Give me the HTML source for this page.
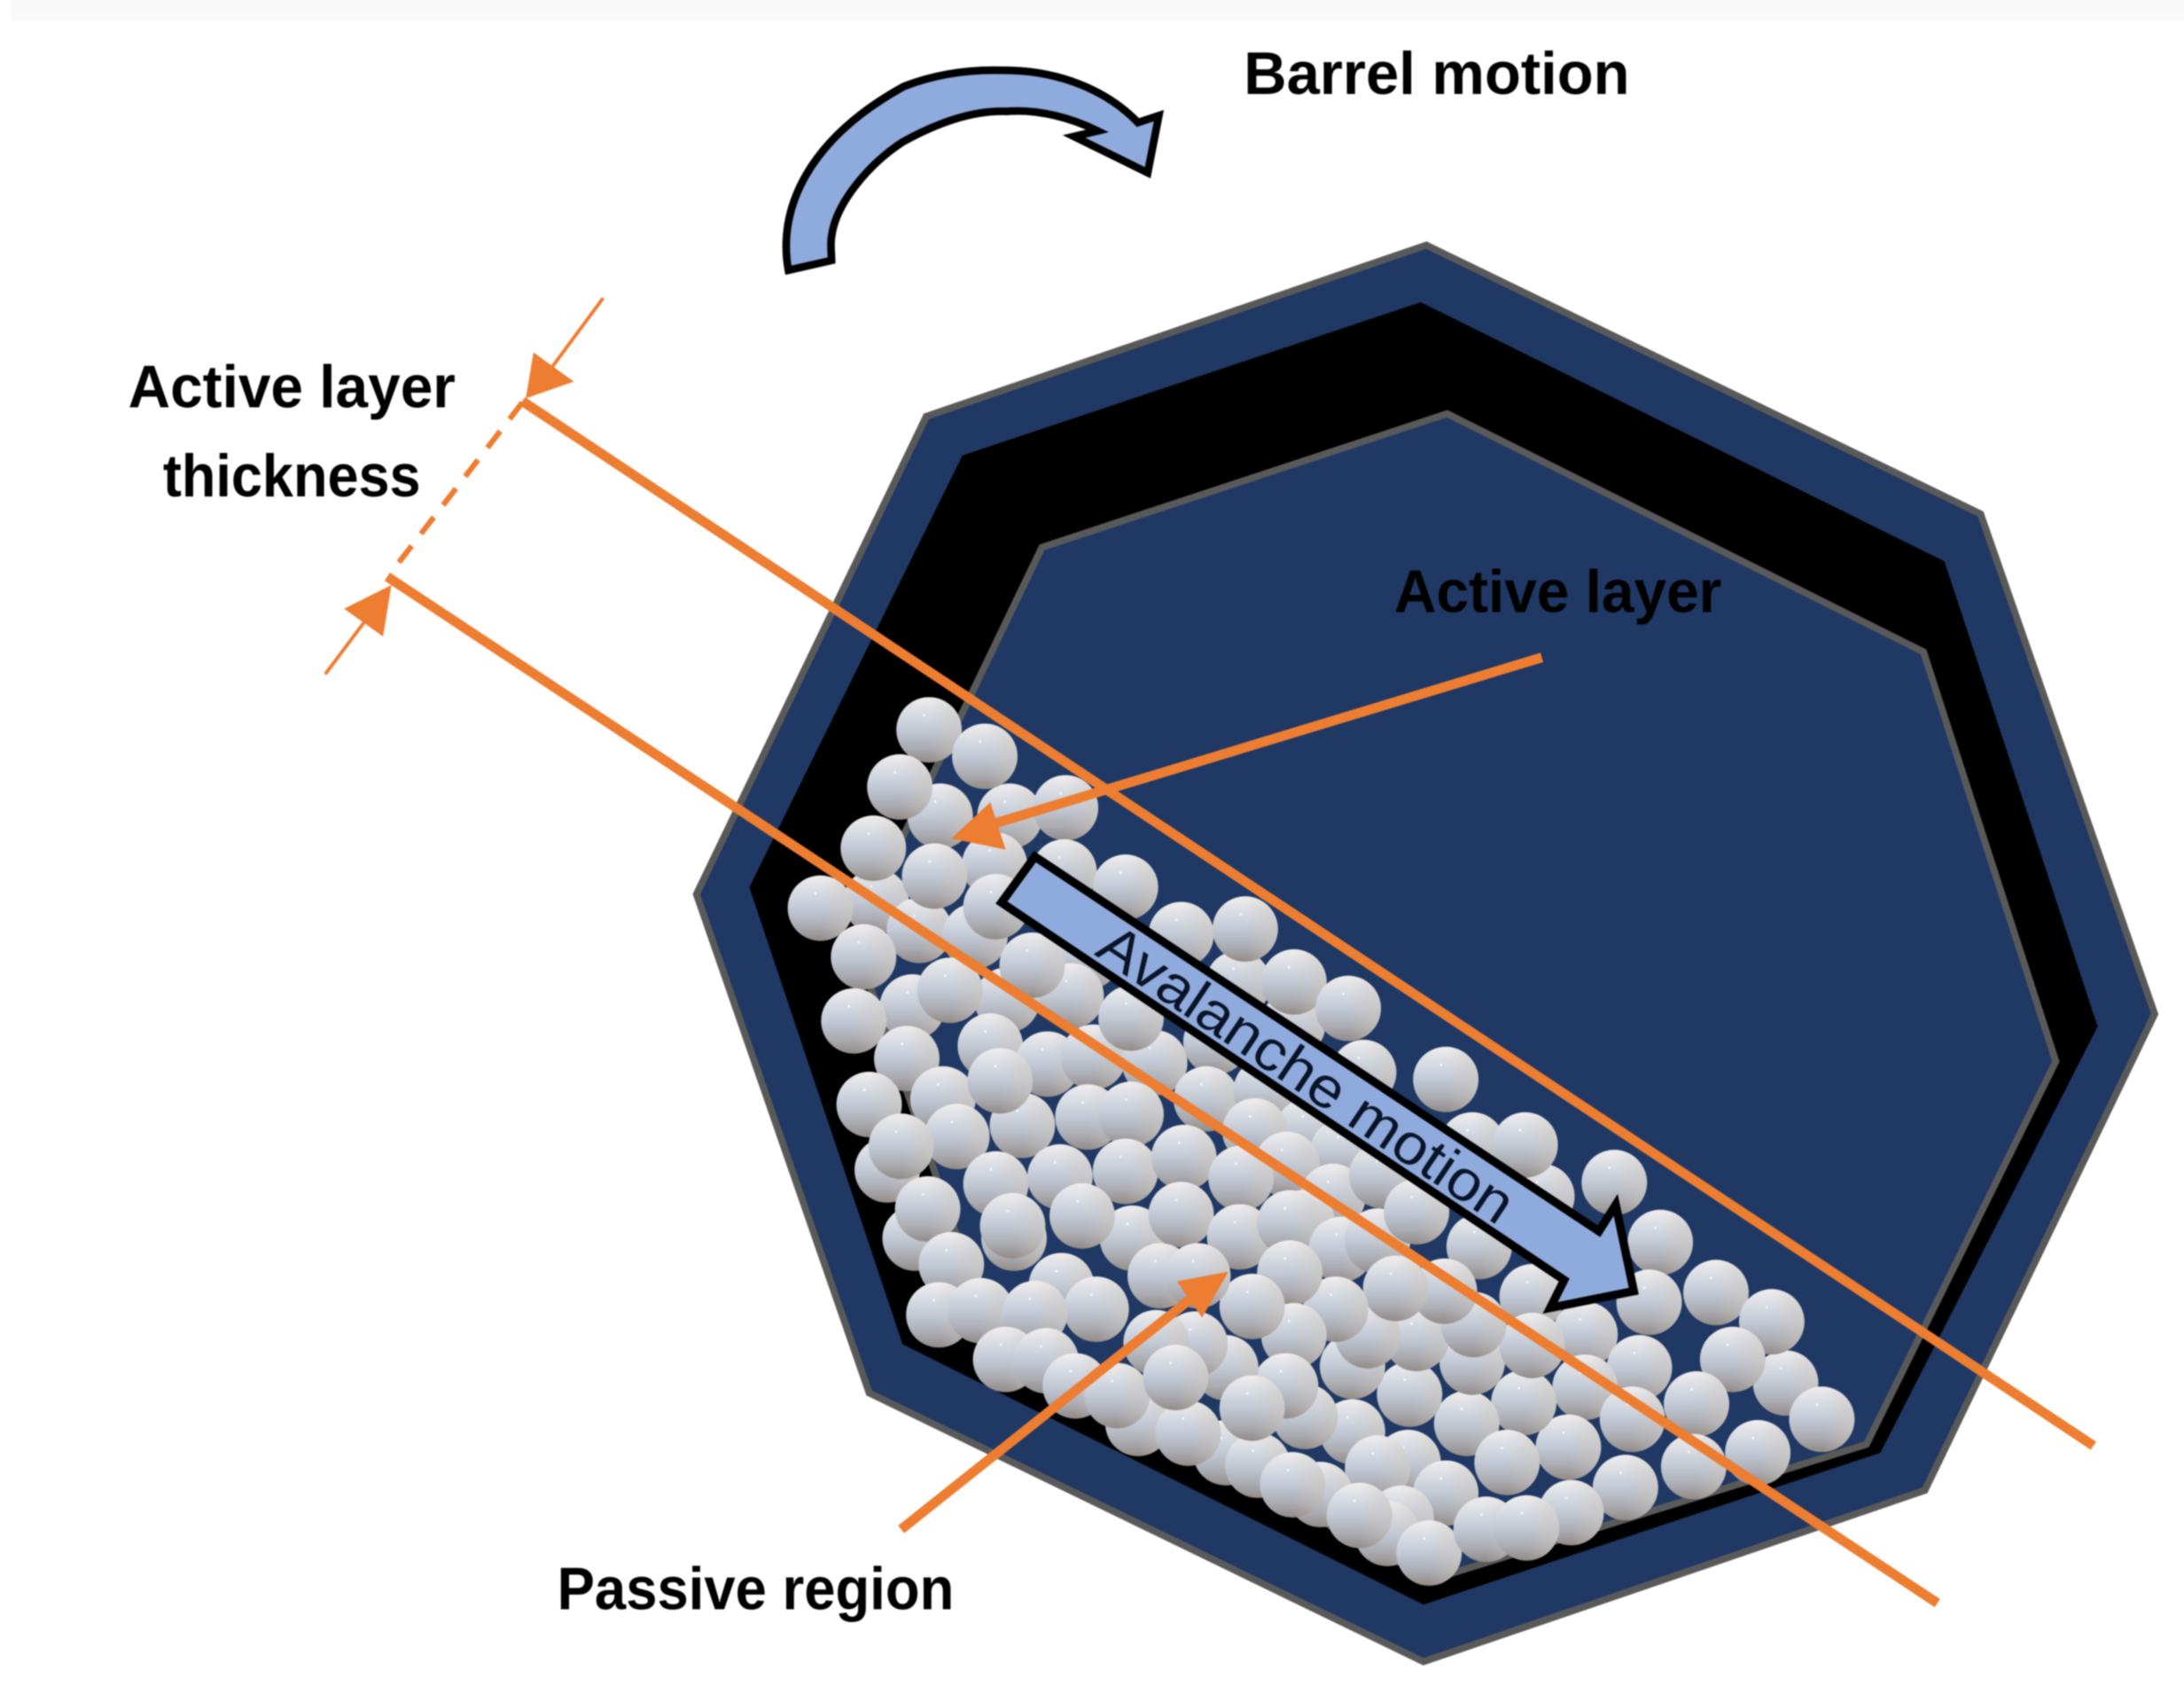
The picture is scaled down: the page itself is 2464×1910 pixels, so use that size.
<!DOCTYPE html>
<html><head><meta charset="utf-8"><style>html,body{margin:0;padding:0;background:#fff}svg{display:block;filter:blur(.7px)}text{font-family:"Liberation Sans",sans-serif;fill:#000}.b{font-weight:700;font-size:43px}</style></head><body>
<svg width="2464" height="1910" viewBox="0 0 1568 1215.5" xmlns="http://www.w3.org/2000/svg">
<defs>
<linearGradient id="g" x1="0" y1="0" x2="0" y2="1"><stop offset="0" stop-color="#f0eded"/><stop offset=".25" stop-color="#d8dce3"/><stop offset=".5" stop-color="#c2c9d5"/><stop offset=".78" stop-color="#aaabb1"/><stop offset="1" stop-color="#918a86"/></linearGradient>
<linearGradient id="h" x1="0" y1="0" x2="1" y2="0"><stop offset=".5" stop-color="#cfc6bd" stop-opacity="0"/><stop offset="1" stop-color="#cfc6bd" stop-opacity=".55"/></linearGradient>
<g id="b"><circle r="23.500" fill="url(#g)"/><circle r="23.500" fill="url(#h)"/><circle cx="-3.500" cy="-10.500" r=".8" fill="#fff"/></g>
</defs>
<rect x="8" width="1560" height="15" fill="#f9f9f9"/>
<polygon points="1024,176 1422,369 1547,728 1382,1070 1022,1193 624,1000 500,642 665,299" fill="#1f3864" stroke="#595959" stroke-width="5"/>
<polygon points="1020,217 1396,403 1506,737 1350,1043 1022,1152 648,965 538,637 691,327" fill="#000"/>
<polygon points="1039,297 1381,468 1476,762 1340,1037 1028,1134 715,968 613,674 748,393" fill="#1f3864" stroke="#595959" stroke-width="5"/>
<g>
<use href="#b" x="629" y="647"/><use href="#b" x="660" y="668"/><use href="#b" x="700" y="672"/><use href="#b" x="675" y="586"/><use href="#b" x="725" y="586"/><use href="#b" x="765" y="580"/><use href="#b" x="714" y="621"/><use href="#b" x="764" y="626"/><use href="#b" x="781" y="687"/><use href="#b" x="769" y="715"/><use href="#b" x="723" y="718"/><use href="#b" x="889" y="706"/><use href="#b" x="928" y="736"/><use href="#b" x="979" y="770"/>
<use href="#b" x="667" y="524"/><use href="#b" x="707" y="543"/><use href="#b" x="646" y="565"/><use href="#b" x="627" y="609"/><use href="#b" x="671" y="629"/><use href="#b" x="715" y="651"/><use href="#b" x="808" y="637"/><use href="#b" x="589" y="652"/><use href="#b" x="848" y="671"/><use href="#b" x="894" y="667"/><use href="#b" x="620" y="687"/><use href="#b" x="655" y="723"/><use href="#b" x="682" y="711"/><use href="#b" x="741" y="693"/><use href="#b" x="929" y="705"/><use href="#b" x="968" y="724"/><use href="#b" x="613" y="733"/>
<use href="#b" x="711" y="751"/><use href="#b" x="752" y="764"/><use href="#b" x="785" y="759"/><use href="#b" x="829" y="763"/><use href="#b" x="812" y="731"/><use href="#b" x="873" y="748"/><use href="#b" x="651" y="760"/><use href="#b" x="677" y="789"/><use href="#b" x="734" y="808"/><use href="#b" x="718" y="776"/><use href="#b" x="624" y="793"/><use href="#b" x="781" y="802"/><use href="#b" x="812" y="800"/><use href="#b" x="866" y="789"/><use href="#b" x="909" y="783"/><use href="#b" x="939" y="812"/><use href="#b" x="901" y="812"/><use href="#b" x="687" y="816"/><use href="#b" x="637" y="840"/><use href="#b" x="647" y="823"/><use href="#b" x="1038" y="775"/><use href="#b" x="964" y="827"/><use href="#b" x="924" y="836"/><use href="#b" x="1057" y="822"/><use href="#b" x="1107" y="859"/>
<use href="#b" x="715" y="850"/><use href="#b" x="761" y="845"/><use href="#b" x="808" y="841"/><use href="#b" x="850" y="831"/><use href="#b" x="657" y="889"/><use href="#b" x="666" y="868"/><use href="#b" x="891" y="846"/><use href="#b" x="1095" y="822"/><use href="#b" x="957" y="859"/><use href="#b" x="992" y="844"/>
<use href="#b" x="728" y="889"/><use href="#b" x="727" y="880"/><use href="#b" x="813" y="889"/><use href="#b" x="777" y="873"/><use href="#b" x="848" y="872"/><use href="#b" x="935" y="878"/><use href="#b" x="890" y="888"/><use href="#b" x="683" y="908"/><use href="#b" x="926" y="878"/><use href="#b" x="963" y="897"/><use href="#b" x="989" y="891"/><use href="#b" x="1017" y="870"/><use href="#b" x="1062" y="895"/><use href="#b" x="1159" y="849"/><use href="#b" x="1192" y="892"/>
<use href="#b" x="1184" y="935"/><use href="#b" x="1232" y="928"/><use href="#b" x="1282" y="993"/><use href="#b" x="1272" y="949"/><use href="#b" x="1244" y="976"/><use href="#b" x="1308" y="1019"/><use href="#b" x="1218" y="1008"/><use href="#b" x="1262" y="1043"/><use href="#b" x="1216" y="1053"/><use href="#b" x="1100" y="931"/><use href="#b" x="1138" y="958"/><use href="#b" x="1177" y="982"/><use href="#b" x="1138" y="996"/><use href="#b" x="1172" y="1019"/><use href="#b" x="1167" y="1068"/><use href="#b" x="1126" y="1039"/><use href="#b" x="1094" y="1007"/><use href="#b" x="1053" y="1022"/><use href="#b" x="1082" y="1050"/><use href="#b" x="1012" y="1001"/><use href="#b" x="971" y="981"/><use href="#b" x="1057" y="978"/><use href="#b" x="1100" y="966"/><use href="#b" x="1017" y="961"/><use href="#b" x="982" y="959"/><use href="#b" x="1058" y="951"/><use href="#b" x="1037" y="927"/><use href="#b" x="1002" y="925"/><use href="#b" x="959" y="940"/><use href="#b" x="926" y="914"/><use href="#b" x="929" y="959"/><use href="#b" x="899" y="938"/>
<use href="#b" x="833" y="916"/><use href="#b" x="762" y="923"/><use href="#b" x="860" y="916"/><use href="#b" x="674" y="944"/><use href="#b" x="704" y="941"/><use href="#b" x="787" y="940"/><use href="#b" x="743" y="943"/><use href="#b" x="722" y="976"/><use href="#b" x="751" y="977"/>
<use href="#b" x="971" y="1028"/><use href="#b" x="937" y="1017"/><use href="#b" x="923" y="995"/><use href="#b" x="880" y="982"/><use href="#b" x="858" y="965"/><use href="#b" x="830" y="964"/><use href="#b" x="817" y="1022"/><use href="#b" x="772" y="995"/><use href="#b" x="802" y="1002"/><use href="#b" x="880" y="1043"/><use href="#b" x="903" y="1052"/><use href="#b" x="853" y="1029"/><use href="#b" x="899" y="1011"/><use href="#b" x="844" y="989"/><use href="#b" x="1011" y="1050"/><use href="#b" x="989" y="1054"/><use href="#b" x="1038" y="1072"/><use href="#b" x="948" y="1073"/><use href="#b" x="928" y="1066"/><use href="#b" x="1006" y="1090"/><use href="#b" x="996" y="1101"/><use href="#b" x="976" y="1088"/><use href="#b" x="1026" y="1115"/><use href="#b" x="1128" y="1086"/><use href="#b" x="1067" y="1098"/><use href="#b" x="1096" y="1097"/>
</g>
<path d="M566,194 C558,150 580,100 649,62 C675,52 700,50 719,50.500 C760,50 795,65 817,88 L832,83 L824,124 L771,98 L788,94 C770,85 745,78 723,80 C700,79 675,87 648,102 C625,117 600,145 597,170 C596,176 597,182 597,187 Z" fill="#8faadc" stroke="#000" stroke-width="5.500"/>
<g stroke="#ed7d31" fill="none">
<line x1="375" y1="288" x2="1503" y2="1038" stroke-width="7"/>
<line x1="278" y1="414" x2="1391" y2="1151" stroke-width="7"/>
<line x1="1107" y1="472" x2="705" y2="594" stroke-width="7"/>
<line x1="647" y1="1098" x2="858" y2="930" stroke-width="7"/>
<line x1="433" y1="214" x2="396" y2="264" stroke-width="2.500"/>
<line x1="233.500" y1="484" x2="262" y2="446" stroke-width="2.500"/>
<line x1="375" y1="289" x2="280" y2="412" stroke-width="4" stroke-dasharray="15 11"/>
</g>
<g fill="#ed7d31">
<polygon points="683,602 711,576 722,610"/>
<polygon points="882,913 845,920 863,946"/>
<polygon points="377.500,286 383,253 412,274"/>
<polygon points="281,420 247,437 275,457"/>
</g>
<polygon points="743,615 1148,884 1160,865 1173,927 1113,939 1123,919 719,648" fill="#8faadc" stroke="#000" stroke-width="6"/>
<text transform="translate(785,685) rotate(33.900)" font-size="41" textLength="350" lengthAdjust="spacingAndGlyphs" style="fill:#0a1428">Avalanche motion</text>
<text class="b" x="893" y="67.500" textLength="277" lengthAdjust="spacingAndGlyphs">Barrel motion</text>
<text class="b" x="92" y="292.500" textLength="235" lengthAdjust="spacingAndGlyphs">Active layer</text>
<text class="b" x="117" y="356.500" textLength="185" lengthAdjust="spacingAndGlyphs">thickness</text>
<text class="b" x="1001" y="439.500" textLength="235" lengthAdjust="spacingAndGlyphs">Active layer</text>
<text class="b" x="400" y="1155.500" textLength="285" lengthAdjust="spacingAndGlyphs">Passive region</text>
</svg>
</body></html>
